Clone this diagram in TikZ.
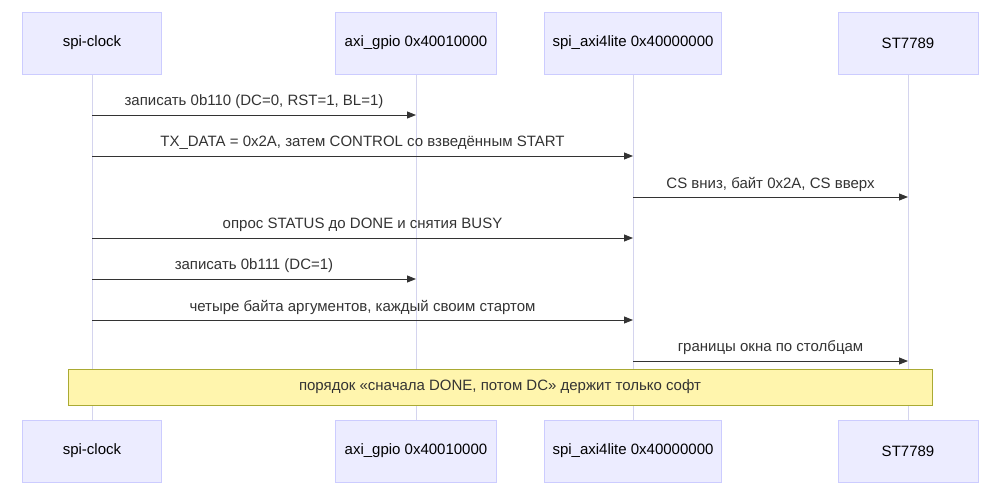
\documentclass[tikz,border=0pt]{standalone}
\usepackage{fontspec}
\setmainfont{Liberation Sans}
\usetikzlibrary{arrows.meta,calc}
\definecolor{actfill}{HTML}{ECECFF}
\definecolor{actdraw}{HTML}{CCCCFF}
\definecolor{life}{HTML}{D4D4EE}
\definecolor{notefill}{HTML}{FFF5AD}
\definecolor{notedraw}{HTML}{AAAA33}
\begin{document}
\begin{tikzpicture}[x=1pt,y=-1pt,
  actor/.style={draw=actdraw,fill=actfill,minimum height=62pt,inner sep=0pt,font=\fontsize{15}{17}\selectfont},
  lifeline/.style={draw=life,line width=1pt},
  msg/.style={draw=black!80,line width=0.9pt,-{Triangle[length=9pt,width=7pt]}},
  lbl/.style={font=\fontsize{15}{17}\selectfont,text=black!80,inner sep=0pt},
  note/.style={draw=notedraw,fill=notefill,minimum width=864pt,minimum height=36pt,font=\fontsize{15}{17}\selectfont,text=black!80}]
\useasboundingbox (0,0) rectangle (1000,498);
\foreach \n/\x/\w/\t in {a/92/139/spi-clock, b/416/161/axi\_gpio 0x40010000, c/633/177/spi\_axi4lite 0x40000000, d/908/140/ST7789}{
  \coordinate (\n t) at (\x,74);
  \coordinate (\n b) at (\x,420);
  \draw[lifeline] (\n t) -- (\n b);
  \node[actor,minimum width=\w pt] (\n top) at (\x,43) {\t};
  \node[actor,minimum width=\w pt] (\n bot) at (\x,451) {\t};
}
\foreach \i/\s/\e/\y/\t in {
 1/a/b/115/{записать 0b110 (DC=0, RST=1, BL=1)},
 2/a/c/156/{TX\_DATA = 0x2A, затем CONTROL со взведённым START},
 3/c/d/197/{CS вниз, байт 0x2A, CS вверх},
 4/a/c/238/{опрос STATUS до DONE и снятия BUSY},
 5/a/b/279/{записать 0b111 (DC=1)},
 6/a/c/320/{четыре байта аргументов, каждый своим стартом},
 7/c/d/361/{границы окна по столбцам}}{
  \coordinate (m\i s) at ($(\s t)+(0,\y-74)$);
  \coordinate (m\i e) at ($(\e t)+(0,\y-74)$);
  \draw[msg] (m\i s) -- (m\i e);
  \node[lbl] (l\i) at ($(m\i s)!0.5!(m\i e)+(0,-13)$) {\t};
}
\node[note] (n) at (500,387) {порядок «сначала DONE, потом DC» держит только софт};
\end{tikzpicture}
\end{document}
